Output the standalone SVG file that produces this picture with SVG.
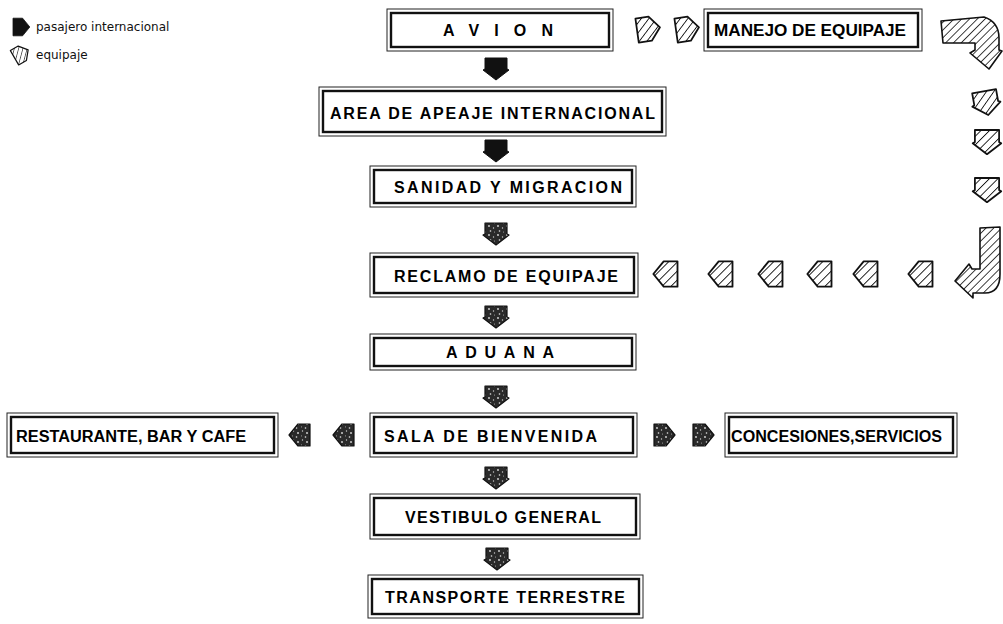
<svg xmlns="http://www.w3.org/2000/svg" width="1003" height="624" viewBox="0 0 1003 624">
  <defs>
    <style>
      .bo { fill: none; stroke: #222; stroke-width: 1; }
      .bi { fill: #fff; stroke: #111; stroke-width: 2.4; }
      .lbl { font-family: "Liberation Sans", Arial, sans-serif; font-weight: bold; font-size: 16px; fill: #000; }
      .leg { font-family: "DejaVu Sans", "Liberation Sans", sans-serif; font-size: 12px; fill: #111; }
      .pax { fill: #111; stroke: #111; stroke-width: 1; stroke-linejoin: round; }
      .pax2 { fill: url(#speck); stroke: #111; stroke-width: 1.2; stroke-linejoin: round; }
      .bag { fill: url(#hatch); stroke: #111; stroke-width: 1.6; stroke-linejoin: round; }
    </style>
    <pattern id="hatch" width="5.5" height="5.5" patternUnits="userSpaceOnUse" patternTransform="rotate(45)">
      <rect width="5.5" height="5.5" fill="#fff"/>
      <line x1="0" y1="0" x2="0" y2="5.5" stroke="#111" stroke-width="1.6"/>
    </pattern>
    <pattern id="speck" width="9" height="9" patternUnits="userSpaceOnUse">
      <rect width="9" height="9" fill="#2a2a2a"/>
      <circle cx="2" cy="2" r="0.9" fill="#ddd"/>
      <circle cx="6.5" cy="4" r="0.7" fill="#ccc"/>
      <circle cx="3.5" cy="7" r="0.8" fill="#e5e5e5"/>
      <circle cx="7.5" cy="8" r="0.5" fill="#bbb"/>
    </pattern>
    <!-- block arrow pointing down, centred on the origin -->
    <path id="ad" d="M-11,-10 L11,-10 L11,1 L13,2 L0,12 L-13,2 L-11,1 Z"/>
    <!-- pentagon arrow pointing right -->
    <path id="ar" d="M-10,-11 L2,-11 L11,0 L2,11 L-10,11 Z"/>
  </defs>

  <!-- legend -->
  <g id="legend">
    <use href="#ar" class="pax" transform="translate(21,27) scale(0.8)"/>
    <text class="leg" x="36" y="31">pasajero internacional</text>
    <use href="#ar" class="bag" transform="translate(21,54) rotate(-30) scale(0.75)"/>
    <text class="leg" x="36" y="59">equipaje</text>
  </g>

  <!-- nodes -->
  <g id="avion">
    <rect class="bo" x="387" y="9" width="226" height="42"/>
    <rect class="bi" x="391" y="13" width="218" height="34"/>
    <text class="lbl" x="443" y="36" textLength="110" lengthAdjust="spacing">AVION</text>
  </g>
  <g id="manejo">
    <rect class="bo" x="704" y="9" width="218" height="42"/>
    <rect class="bi" x="708" y="13" width="210" height="34"/>
    <text class="lbl" x="714" y="36" textLength="192" lengthAdjust="spacingAndGlyphs">MANEJO DE EQUIPAJE</text>
  </g>
  <g id="area">
    <rect class="bo" x="319" y="87" width="347" height="49"/>
    <rect class="bi" x="323" y="91" width="339" height="41"/>
    <text class="lbl" x="330" y="119" textLength="325" lengthAdjust="spacing">AREA DE APEAJE  INTERNACIONAL</text>
  </g>
  <g id="sanidad">
    <rect class="bo" x="370" y="166" width="266" height="41"/>
    <rect class="bi" x="374" y="170" width="258" height="33"/>
    <text class="lbl" x="394" y="193" textLength="228" lengthAdjust="spacing">SANIDAD  Y  MIGRACION</text>
  </g>
  <g id="reclamo">
    <rect class="bo" x="370" y="253" width="268" height="44"/>
    <rect class="bi" x="374" y="257" width="260" height="36"/>
    <text class="lbl" x="394" y="282" textLength="224" lengthAdjust="spacing">RECLAMO  DE  EQUIPAJE</text>
  </g>
  <g id="aduana">
    <rect class="bo" x="370" y="334" width="266" height="36"/>
    <rect class="bi" x="374" y="338" width="258" height="28"/>
    <text class="lbl" x="446" y="358" textLength="108" lengthAdjust="spacing">ADUANA</text>
  </g>
  <g id="restaurante">
    <rect class="bo" x="7" y="413" width="271" height="44"/>
    <rect class="bi" x="11" y="417" width="263" height="36"/>
    <text class="lbl" x="16" y="442" textLength="230" lengthAdjust="spacingAndGlyphs">RESTAURANTE, BAR Y CAFE</text>
  </g>
  <g id="sala">
    <rect class="bo" x="370" y="413" width="267" height="44"/>
    <rect class="bi" x="374" y="417" width="259" height="36"/>
    <text class="lbl" x="384" y="442" textLength="213" lengthAdjust="spacing">SALA  DE  BIENVENIDA</text>
  </g>
  <g id="concesiones">
    <rect class="bo" x="725" y="413" width="232" height="44"/>
    <rect class="bi" x="729" y="417" width="224" height="36"/>
    <text class="lbl" x="731" y="442" textLength="211" lengthAdjust="spacingAndGlyphs">CONCESIONES,SERVICIOS</text>
  </g>
  <g id="vestibulo">
    <rect class="bo" x="370" y="494" width="270" height="45"/>
    <rect class="bi" x="374" y="498" width="262" height="37"/>
    <text class="lbl" x="405" y="523" textLength="196" lengthAdjust="spacing">VESTIBULO  GENERAL</text>
  </g>
  <g id="transporte">
    <rect class="bo" x="368" y="575" width="275" height="43"/>
    <rect class="bi" x="372" y="579" width="267" height="35"/>
    <text class="lbl" x="385" y="603" textLength="240" lengthAdjust="spacing">TRANSPORTE    TERRESTRE</text>
  </g>

  <!-- connectors: passenger flow -->
  <g id="passenger-flow">
    <use href="#ad" class="pax" transform="translate(496,68)"/>
    <use href="#ad" class="pax" transform="translate(496,150)"/>
    <use href="#ad" class="pax2" transform="translate(496,233)"/>
    <use href="#ad" class="pax2" transform="translate(496,316)"/>
    <use href="#ad" class="pax2" transform="translate(496,396)"/>
    <use href="#ad" class="pax2" transform="translate(496,477)"/>
    <use href="#ad" class="pax2" transform="translate(497,558)"/>
    <use href="#ar" class="pax2" transform="translate(300,435) rotate(180)"/>
    <use href="#ar" class="pax2" transform="translate(344,435) rotate(180)"/>
    <use href="#ar" class="pax2" transform="translate(664,435)"/>
    <use href="#ar" class="pax2" transform="translate(703,435)"/>
  </g>

  <!-- connectors: baggage flow -->
  <g id="baggage-flow">
    <use href="#ar" class="bag" transform="translate(648,29) rotate(-8) scale(1.1)"/>
    <use href="#ar" class="bag" transform="translate(687,29) rotate(-8) scale(1.1)"/>
    <path class="bag" d="M941,21 L984,17 Q999,22 999,38 L999,50 L1002,51 L989,69 L970,53 L975,50 L975,43 L943,43 Z"/>
    <use href="#ad" class="bag" transform="translate(986,102) rotate(-10) scale(1.1)"/>
    <use href="#ad" class="bag" transform="translate(987,141) scale(1.1)"/>
    <use href="#ad" class="bag" transform="translate(987,189) scale(1.1)"/>
    <path class="bag" d="M980,228 L1000,227 L1000,274 Q1000,293 985,293 L973,293 L973,298 L955,281 L969,264 L972,269 L980,269 Z"/>
    <use href="#ar" class="bag" transform="translate(921,274) rotate(180) scale(1.15)"/>
    <use href="#ar" class="bag" transform="translate(866,274) rotate(180) scale(1.15)"/>
    <use href="#ar" class="bag" transform="translate(820,274) rotate(180) scale(1.15)"/>
    <use href="#ar" class="bag" transform="translate(771,274) rotate(180) scale(1.15)"/>
    <use href="#ar" class="bag" transform="translate(721,274) rotate(180) scale(1.15)"/>
    <use href="#ar" class="bag" transform="translate(666,274) rotate(180) scale(1.15)"/>
  </g>
</svg>
